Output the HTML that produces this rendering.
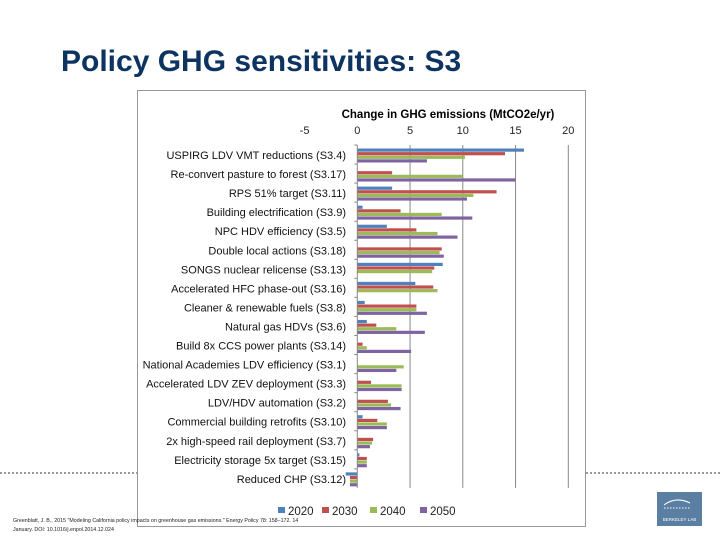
<!DOCTYPE html>
<html><head><meta charset="utf-8"><style>
body{margin:0;width:720px;height:540px;background:#fff;overflow:hidden;position:relative;font-family:"Liberation Sans",sans-serif}
#title{position:absolute;left:61px;top:45px;font-size:30px;font-weight:bold;color:#0d3461;margin:0;white-space:nowrap}
svg{position:absolute;left:0;top:0}
</style></head><body>
<h1 id="title">Policy GHG sensitivities: S3</h1>
<svg id="chart" width="720" height="540"></svg>
<script>
const categories=["USPIRG LDV VMT reductions (S3.4)","Re-convert pasture to forest (S3.17)","RPS 51% target (S3.11)","Building electrification (S3.9)","NPC HDV efficiency (S3.5)","Double local actions (S3.18)","SONGS nuclear relicense (S3.13)","Accelerated HFC phase-out (S3.16)","Cleaner & renewable fuels (S3.8)","Natural gas HDVs (S3.6)","Build 8x CCS power plants (S3.14)","National Academies LDV efficiency (S3.1)","Accelerated LDV ZEV deployment (S3.3)","LDV/HDV automation (S3.2)","Commercial building retrofits (S3.10)","2x high-speed rail deployment (S3.7)","Electricity storage 5x target (S3.15)","Reduced CHP (S3.12)"];
const series2020=[15.8,0,3.3,0.5,2.8,0,8.1,5.5,0.7,0.9,0,0,0,0,0.5,0,0.2,-1.1];
const series2030=[14.0,3.3,13.2,4.1,5.6,8.0,7.3,7.2,5.6,1.8,0.5,0,1.3,2.9,1.9,1.5,0.9,-0.7];
const series2040=[10.2,10.0,11.0,8.0,7.6,7.8,7.1,7.6,5.6,3.7,0.9,4.4,4.2,3.2,2.8,1.4,0.9,-0.7];
const series2050=[6.6,15.0,10.4,10.9,9.5,8.2,0,0,6.6,6.4,5.1,3.7,4.2,4.1,2.8,1.2,0.9,-0.7];
const seriesNames=["2020","2030","2040","2050"];
const xTicks=[-5,0,5,10,15,20];
const colors=["#4f81bd","#c0504d","#9bbb59","#8064a2"];
const NS="http://www.w3.org/2000/svg";
const svg=document.getElementById('chart');
function x(v){return 357.3+v*10.55;}
function rowTop(i){return 145+i*19.05;}
function mk(tag,attrs,parent){const e=document.createElementNS(NS,tag);for(const k in attrs)e.setAttribute(k,attrs[k]);(parent||svg).appendChild(e);return e;}
const frame=mk('rect',{x:137.5,y:90.5,width:448,height:436,fill:'#fff',stroke:'#999','stroke-width':1});


const dot1=mk('line',{x1:0,y1:473,x2:137,y2:473,stroke:'#333','stroke-dasharray':'2,2','stroke-width':1});


const dot2=mk('line',{x1:586,y1:473,x2:720,y2:473,stroke:'#333','stroke-dasharray':'2,2','stroke-width':1});


const at=mk('text',{x:448,y:118,'text-anchor':'middle','font-size':'11.5','font-weight':'bold',fill:'#000'});
at.textContent='Change in GHG emissions (MtCO2e/yr)';


const plotBottom=rowTop(categories.length);
xTicks.forEach(t=>{
  if(t>0){const g=mk('line',{x1:x(t),y1:145,x2:x(t),y2:plotBottom,stroke:'#888','stroke-width':1});
  
  }
  const tl=mk('text',{x:x(t),y:134,'text-anchor':'middle','font-size':'11',fill:'#222'});
  tl.textContent=t;
  
  
});
const allSeries=[series2020,series2030,series2040,series2050];
categories.forEach((c,i)=>{
  const top=rowTop(i);
  const lb=mk('text',{x:346,y:top+14,'text-anchor':'end','font-size':'11',fill:'#111'});
  lb.textContent=c;
  
  
  allSeries.forEach((s,k)=>{
    const v=s[i];
    const b=mk('rect',{x:Math.min(x(0),x(v)),y:top+3.5+k*3.6,width:Math.abs(x(v)-x(0)),height:3.2,fill:colors[k]});
    
    
  });
  const tk=mk('line',{x1:x(0)-3,y1:top,x2:x(0),y2:top,stroke:'#888'});
  
  
});
const ax=mk('line',{x1:x(0),y1:145,x2:x(0),y2:plotBottom,stroke:'#888','stroke-width':1});


const lx=[278,322,370,420];
seriesNames.forEach((n,k)=>{
  const g=mk('g',{});
  
  
  mk('rect',{x:lx[k],y:507,width:7,height:6,fill:colors[k]},g);
  const t=mk('text',{x:lx[k]+10,y:515,'font-size':'11.5',fill:'#222'},g);
  t.textContent=n;
});
const f1=mk('text',{x:13,y:522,'font-size':'5.3',fill:'#222'});
f1.textContent='Greenblatt, J. B., 2015 "Modeling California policy impacts on greenhouse gas emissions." Energy Policy 78: 158–172. 14';


const f2=mk('text',{x:13,y:531,'font-size':'5.3',fill:'#222'});
f2.textContent='January. DOI: 10.1016/j.enpol.2014.12.024';


const lg=mk('g',{});


mk('rect',{x:657,y:492,width:45,height:34,fill:'#5a7fa3'},lg);
mk('path',{d:'M664 505 Q676 496 690 503',stroke:'#fff',fill:'none','stroke-width':1},lg);
mk('line',{x1:664,y1:508,x2:690,y2:508,stroke:'#fff','stroke-dasharray':'1.5,1.5'},lg);
const lt=mk('text',{x:679.5,y:521,'text-anchor':'middle','font-size':'4.5',fill:'#fff'},lg);
lt.textContent='BERKELEY LAB';
</script>
</body></html>
